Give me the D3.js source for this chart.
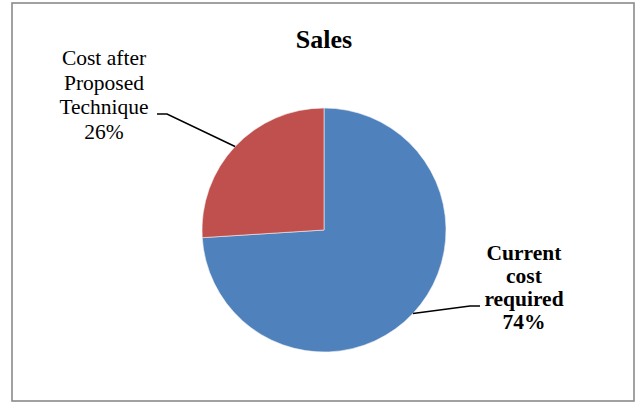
<!DOCTYPE html>
<html>
<head>
<meta charset="utf-8">
<script src="https://cdn.jsdelivr.net/npm/d3@7"></script>
<style>
  body { margin: 0; background: #fff; }
</style>
</head>
<body>
<svg id="chart"></svg>
<script>
// data
const categories = ["Current cost required", "Cost after Proposed Technique"];
const values = [74, 26];
const labelLines = [["Current", "cost", "required"], ["Cost after", "Proposed", "Technique"]];
const colors = ["#4F81BD", "#C0504D"];
const title = "Sales";

var widthA = 636, heightA = 403;
var cx = 324, cy = 230, radius = 122;
var fontFam = "'Liberation Serif', 'Times New Roman', serif";

var svg = d3.select('#chart')
  .attr('width', widthA)
  .attr('height', heightA);

// outer frame
svg.append('rect')
  .attr('x', 12).attr('y', 3)
  .attr('width', 622).attr('height', 398)
  .attr('fill', '#fff')
  .attr('stroke', '#8a8a8a')
  .attr('stroke-width', 1.6);

// title
svg.append('text')
  .attr('x', 324).attr('y', 48)
  .attr('text-anchor', 'middle')
  .style('font-family', fontFam)
  .style('font-weight', 700)
  .style('font-size', '26px')
  .text(title);

var pieData = d3.pie().sort(null).startAngle(0)(values);
pieData.forEach((d, i) => { d.key = categories[i]; });

var arc = d3.arc().innerRadius(0).outerRadius(radius);

var g = svg.append('g').attr('transform', `translate(${cx},${cy})`);

g.selectAll('path.slice')
  .data(pieData)
  .enter()
  .append('path')
  .attr('class', 'slice')
  .attr('d', arc)
  .attr('fill', (d, i) => colors[i])
  .attr('stroke', '#f3f3f3')
  .attr('stroke-width', 0.6);

// label layout (center x, first baseline, line height, weight, elbow point)
var labelPos = [
  { x: 524, y: 260, lh: 23, weight: 700, elbow: [470, 306], end: [480, 306] },
  { x: 104, y: 65, lh: 24.7, weight: 400, elbow: [167, 114], end: [157, 114] }
];

pieData.forEach((d, i) => {
  var mid = (d.startAngle + d.endAngle) / 2;
  var px = cx + Math.sin(mid) * radius;
  var py = cy - Math.cos(mid) * radius;
  var lp = labelPos[i];

  svg.append('path')
    .attr('d', `M ${px} ${py} L ${lp.elbow[0]} ${lp.elbow[1]} L ${lp.end[0]} ${lp.end[1]}`)
    .attr('fill', 'none')
    .attr('stroke', '#000')
    .attr('stroke-width', 1.5);

  var lines = labelLines[i].concat([Math.round(d.value) + '%']);
  var t = svg.append('text')
    .attr('text-anchor', 'middle')
    .style('font-family', fontFam)
    .style('font-weight', lp.weight)
    .style('font-size', '21.5px')
    .attr('fill', '#000');
  lines.forEach((ln, j) => {
    t.append('tspan')
      .attr('x', lp.x)
      .attr('y', lp.y + j * lp.lh)
      .text(ln);
  });
});
</script>
</body>
</html>
